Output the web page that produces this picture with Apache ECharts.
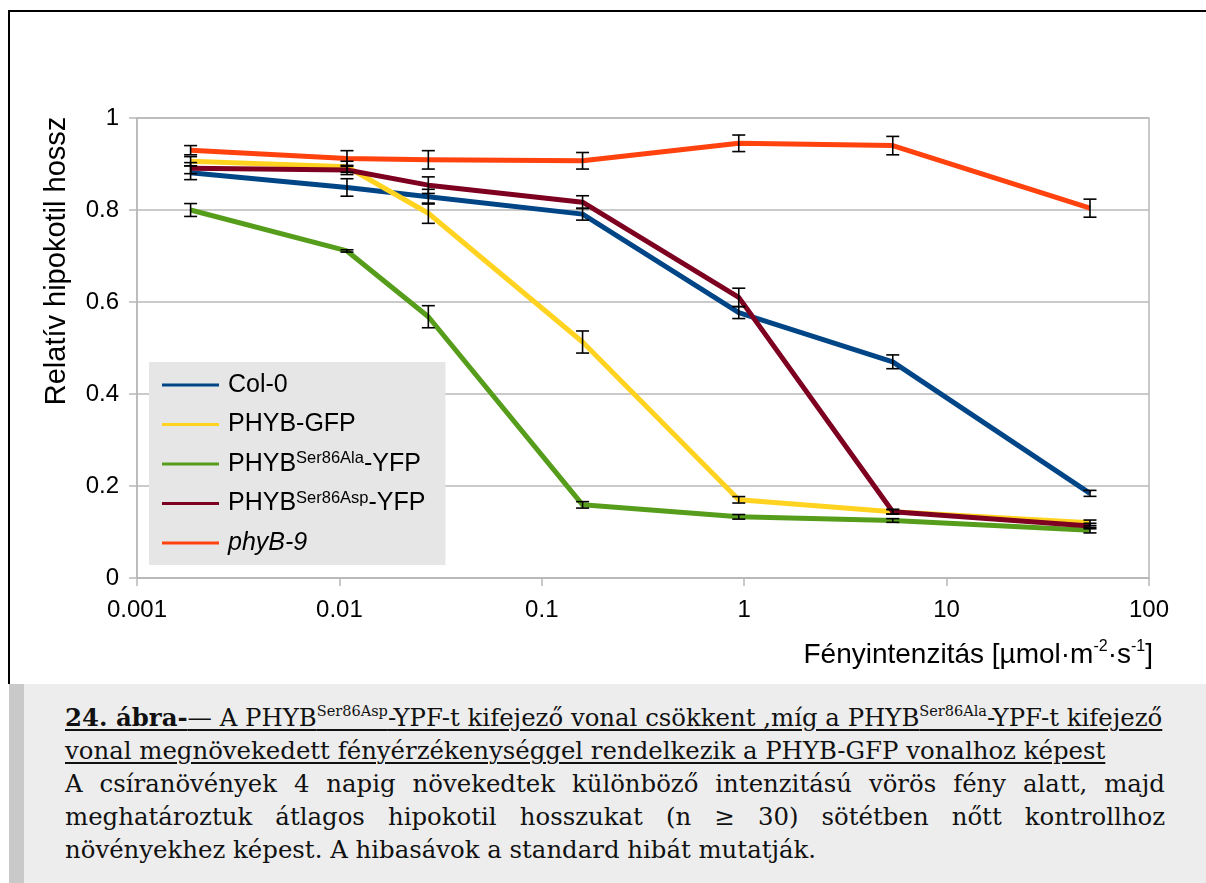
<!DOCTYPE html>
<html>
<head>
<meta charset="utf-8">
<script src="https://cdn.jsdelivr.net/npm/echarts@6/dist/echarts.min.js"></script>
<style>
  html, body { margin: 0; padding: 0; background: #fff; }
  #main { position: absolute; left: 0; top: 0; width: 1206px; height: 883px; }
  .frameTop { position: absolute; left: 8px; top: 10px; width: 1198px; height: 2px; background: #000; }
  .frameLeft { position: absolute; left: 8px; top: 10px; width: 2px; height: 674px; background: #000; }
  .caption { position: absolute; left: 9px; top: 684px; width: 1197px; height: 199px; background: #ededed; }
  .stripe { position: absolute; left: 0; top: 0; width: 15px; height: 199px; background: #c9c9c9; }
  .capText { position: absolute; left: 56px; top: 17px; width: 1100px; font-family: "DejaVu Serif", serif; font-size: 24.4px; line-height: 33px; color: #111; }
  .capText .ul { text-decoration: underline; text-decoration-thickness: 1.5px; text-underline-offset: 3px; white-space: nowrap; }
  .capText sup { font-size: 14.5px; vertical-align: 10px; line-height: 0; }
  .capText .j { text-align: justify; text-align-last: justify; display: block; }
  .capText .l { display: block; white-space: nowrap; }
</style>
</head>
<body>
<div id="main"></div>
<div class="frameTop"></div>
<div class="frameLeft"></div>
<div class="caption">
  <div class="stripe"></div>
  <div class="capText">
    <span class="l ul"><b>24. ábra-</b>— A PHYB<sup>Ser86Asp</sup>-YPF-t kifejező vonal csökkent ,míg a PHYB<sup>Ser86Ala</sup>-YPF-t kifejező</span>
    <span class="l ul">vonal megnövekedett fényérzékenységgel rendelkezik a PHYB-GFP vonalhoz képest</span>
    <span class="j">A csíranövények 4 napig növekedtek különböző intenzitású vörös fény alatt, majd</span>
    <span class="j">meghatároztuk átlagos hipokotil hosszukat (n ≥ 30) sötétben nőtt kontrollhoz</span>
    <span class="l">növényekhez képest. A hibasávok a standard hibát mutatják.</span>
  </div>
</div>
<script>
// ---- data ----
const xValues = [0.00184, 0.0109, 0.0275, 0.159, 0.94, 5.42, 51.1];
const xTickLabels = ['0.001', '0.01', '0.1', '1', '10', '100'];
const seriesNames = ['Col-0', 'PHYB-GFP', 'PHYB-Ser86Ala-YFP', 'PHYB-Ser86Asp-YFP', 'phyB-9'];
const col0       = [0.881, 0.849, 0.829, 0.791, 0.577, 0.470, 0.184];
const col0Err    = [0.015, 0.019, 0.016, 0.013, 0.013, 0.015, 0.0065];
const phybGfp    = [0.906, 0.894, 0.793, 0.513, 0.170, 0.144, 0.120];
const phybGfpErr = [0.010, 0.012, 0.022, 0.024, 0.007, 0.005, 0.006];
const ser86Ala    = [0.800, 0.711, 0.568, 0.159, 0.133, 0.125, 0.104];
const ser86AlaErr = [0.014, 0.0025, 0.024, 0.007, 0.005, 0.004, 0.006];
const ser86Asp    = [0.891, 0.887, 0.854, 0.817, 0.610, 0.144, 0.113];
const ser86AspErr = [0.012, 0.010, 0.018, 0.014, 0.020, 0.005, 0.006];
const phyB9    = [0.930, 0.912, 0.909, 0.907, 0.945, 0.940, 0.804];
const phyB9Err = [0.010, 0.017, 0.020, 0.018, 0.018, 0.020, 0.0196];

const colors = ['#004586', '#ffd320', '#579d1c', '#7e0021', '#ff420e'];
const allValues = [col0, phybGfp, ser86Ala, ser86Asp, phyB9];
const allErrs = [col0Err, phybGfpErr, ser86AlaErr, ser86AspErr, phyB9Err];

const legendLabels = {
  'Col-0': 'Col-0',
  'PHYB-GFP': 'PHYB-GFP',
  'PHYB-Ser86Ala-YFP': 'PHYB{sup|Ser86Ala}-YFP',
  'PHYB-Ser86Asp-YFP': 'PHYB{sup|Ser86Asp}-YFP',
  'phyB-9': '{it|phyB-9}'
};

const FONT = '"Liberation Sans", Arial, sans-serif';

const lineSeries = seriesNames.map((name, i) => ({
  name: name,
  type: 'line',
  data: xValues.map((x, j) => [x, allValues[i][j]]),
  showSymbol: false,
  symbol: 'none',
  lineStyle: { width: 5, color: colors[i], join: 'round' },
  itemStyle: { color: colors[i] },
  z: 2
}));

const errData = [];
allValues.forEach((vals, i) => {
  vals.forEach((v, j) => errData.push([xValues[j], v, allErrs[i][j]]));
});

const errSeries = {
  name: 'errorbars',
  type: 'custom',
  dimensions: ['x', 'y', 'e'],
  encode: { x: 0, y: 1 },
  data: errData,
  z: 5,
  silent: true,
  renderItem: function (params, api) {
    const x = api.value(0), y = api.value(1), e = api.value(2);
    const top = api.coord([x, y + e]);
    const bot = api.coord([x, y - e]);
    const hw = 6.5;
    const st = { stroke: '#000', lineWidth: 1.6 };
    return {
      type: 'group',
      children: [
        { type: 'line', shape: { x1: top[0], y1: top[1], x2: bot[0], y2: bot[1] }, style: st },
        { type: 'line', shape: { x1: top[0] - hw, y1: top[1], x2: top[0] + hw, y2: top[1] }, style: st },
        { type: 'line', shape: { x1: bot[0] - hw, y1: bot[1], x2: bot[0] + hw, y2: bot[1] }, style: st }
      ]
    };
  }
};

const chart = echarts.init(document.getElementById('main'), null, { renderer: 'canvas' });
chart.setOption({
  animation: false,
  backgroundColor: '#fff',
  textStyle: { fontFamily: FONT },
  grid: {
    left: 137, right: 57, top: 118, bottom: 305,
    show: true, borderColor: '#b8b8b8', borderWidth: 1.5, backgroundColor: 'transparent'
  },
  xAxis: {
    type: 'log',
    logBase: 10,
    min: 0.001,
    max: 100,
    axisLine: { lineStyle: { color: '#b8b8b8', width: 1.5 } },
    axisTick: { show: true, length: 8, lineStyle: { color: '#b8b8b8', width: 1.5 } },
    splitLine: { show: false },
    minorTick: { show: false },
    axisLabel: {
      margin: 20,
      color: '#000',
      fontSize: 24,
      fontFamily: FONT,
      formatter: function (v) {
        const k = Math.round(Math.log10(v)) + 3;
        return xTickLabels[k] !== undefined ? xTickLabels[k] : '';
      }
    }
  },
  yAxis: {
    type: 'value',
    min: 0,
    max: 1,
    interval: 0.2,
    axisLine: { show: true, lineStyle: { color: '#b8b8b8', width: 1.5 } },
    axisTick: { show: true, length: 8, lineStyle: { color: '#b8b8b8', width: 1.5 } },
    splitLine: { show: true, lineStyle: { color: '#b8b8b8', width: 1.5 } },
    axisLabel: {
      margin: 18,
      color: '#000',
      fontSize: 24,
      fontFamily: FONT,
      formatter: function (v) {
        if (Math.abs(v) < 1e-9) return '0';
        if (Math.abs(v - 1) < 1e-9) return '1';
        return v.toFixed(1);
      }
    }
  },
  legend: {
    data: seriesNames,
    orient: 'vertical',
    left: 149,
    top: 362,
    backgroundColor: '#e6e6e6',
    padding: [9, 20, 8, 13],
    itemWidth: 57,
    itemHeight: 3,
    itemGap: 11.5,
    icon: 'rect',
    selectedMode: false,
    textStyle: {
      fontSize: 25,
      fontFamily: FONT,
      color: '#000',
      lineHeight: 28,
      padding: [0, 0, 0, 4],
      rich: {
        sup: { fontSize: 16.5, fontFamily: FONT, color: '#000', lineHeight: 18, verticalAlign: 'top' },
        it: { fontSize: 25, fontFamily: FONT, color: '#000', fontStyle: 'italic', lineHeight: 28 }
      }
    },
    formatter: function (name) { return legendLabels[name] || name; }
  },
  graphic: [
    {
      type: 'text',
      x: 57, y: 261,
      rotation: Math.PI / 2,
      style: {
        text: 'Relatív hipokotil hossz',
        fontSize: 29, fontFamily: FONT, fill: '#000',
        align: 'center', verticalAlign: 'middle',
        textAlign: 'center', textVerticalAlign: 'middle'
      }
    },
    {
      type: 'text',
      x: 1153, y: 655,
      style: {
        text: 'Fényintenzitás [µmol·m{sup|-2}·s{sup|-1}]',
        fontSize: 28, fontFamily: FONT, fill: '#000',
        lineHeight: 32,
        align: 'right', verticalAlign: 'middle',
        textAlign: 'right', textVerticalAlign: 'middle',
        rich: {
          sup: { fontSize: 16, fontFamily: FONT, fill: '#000', lineHeight: 18, verticalAlign: 'top' }
        }
      }
    }
  ],
  series: lineSeries.concat([errSeries])
});
</script>
</body>
</html>
